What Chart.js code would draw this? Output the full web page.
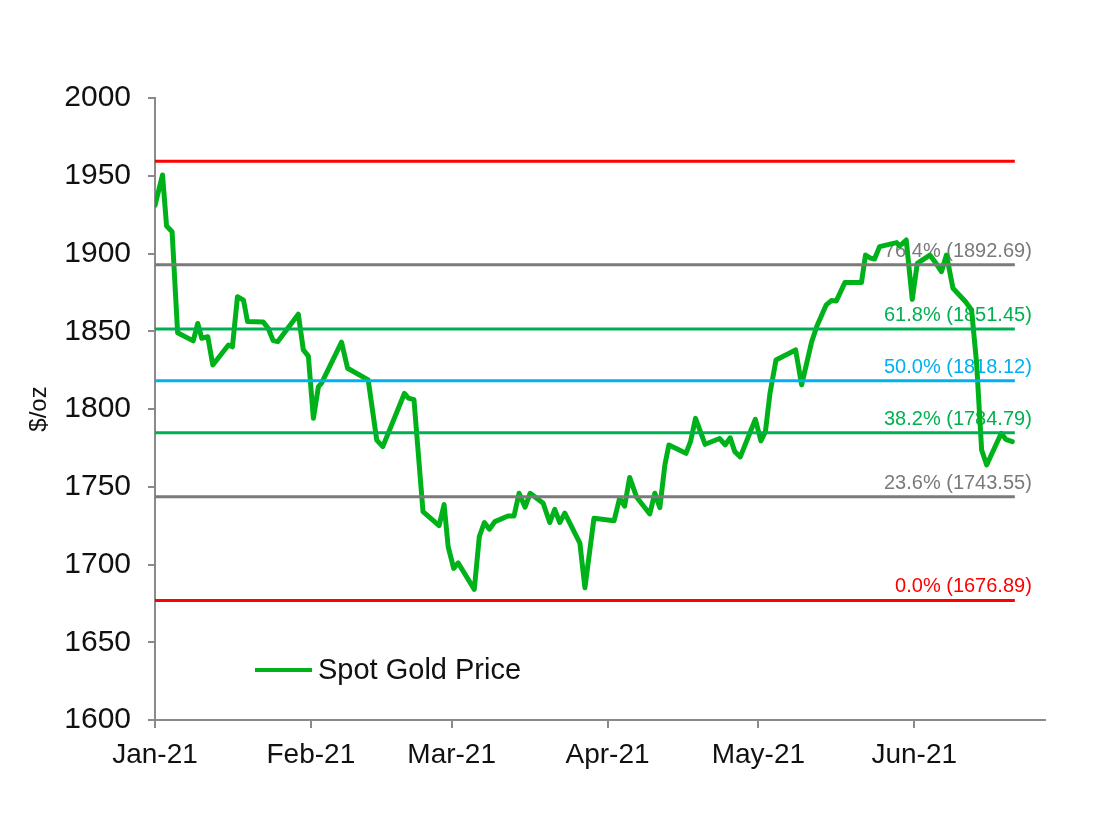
<!DOCTYPE html>
<html><head><meta charset="utf-8">
<script src="https://cdn.jsdelivr.net/npm/chart.js@4.4.1/dist/chart.umd.min.js"></script>
<style>html,body{margin:0;padding:0;background:#fff}#wrap{width:1100px;height:814px}</style>
</head><body><div id="wrap"><canvas id="c" width="1100" height="814"></canvas></div>
<script>
// ---- data ----
const seriesName = 'Spot Gold Price';
const goldDays = [0,1.5,2.3,3.4,4.5,7.6,8.5,9.3,10.5,11.5,
 14.6,15.4,16.4,17.6,18.4,21.5,22.5,23.5,24.4,28.5,
 29.5,30.5,31.5,32.5,33.1,37.1,38.3,42.4,44.1,45.3,
 49.6,50.4,51.5,53.3,56.5,57.5,58.3,59.4,60.3,63.5,
 64.5,65.5,66.5,67.6,70.2,71.4,72.4,73.6,74.6,77.2,
 78.5,79.5,80.5,81.5,84.5,85.5,87.3,91.3,92.4,93.4,
 94.4,95.8,98.4,99.4,100.4,101.4,102.2,105.6,106.5,107.5,
 109.4,112.3,113.4,114.4,115.3,116.4,119.4,120.5,121.4,122.3,
 123.5,127.4,128.6,130.6,131.6,133.5,134.5,135.5,137.2,140.5,
 141.3,142.3,143.1,144.1,147.5,148.1,149.4,150.6,151.6,154.1,
 155.1,156.4,157.4,158.7,161.2,162.4,163.4,164.4,165.4,168.3,
 169.2,170.5];
const goldPrices = [1931,1950.5,1917.7,1914,1849,1843.8,1855,1845.5,1846.5,1828.3,
 1841.2,1840,1872.2,1870,1856.2,1856,1851.9,1844,1843.3,1861,
 1838,1834,1794,1814.4,1816.5,1843,1826.2,1818.7,1780,1775.8,
 1810,1807,1806,1734,1725,1738.5,1711.5,1697.5,1701,1684,
 1718,1727,1722.7,1727.6,1731.2,1731.2,1745.8,1736.8,1745.8,1739.4,
 1727,1735.5,1727,1733,1713.7,1685,1729.7,1728.2,1742.6,1737.6,
 1756,1743.2,1732.5,1745.8,1736.6,1764,1776.9,1771.5,1779,1794,
 1777.3,1781,1776.9,1781.5,1772.6,1769.2,1793.4,1779.5,1785.5,1810,
 1831.5,1838,1815.5,1843.3,1853,1867,1869.7,1869.5,1881.3,1881.3,
 1899,1897,1896.5,1904.4,1907,1904.8,1908.7,1870.5,1893.7,1899,
 1894.7,1888.3,1899,1877.6,1869,1863.7,1829.4,1773.6,1764,1784.4,
 1780.5,1779];
const fibLevels = [1959.35, 1892.69, 1851.45, 1818.12, 1784.79, 1743.55, 1676.89];
const fibLabels = ['', '76.4% (1892.69)', '61.8% (1851.45)', '50.0% (1818.12)', '38.2% (1784.79)', '23.6% (1743.55)', '0.0% (1676.89)'];
const fibStartDay = 0, fibEndDay = 171;
const monthTicks = [0, 31, 59, 90, 120, 151];
const monthLabels = ['Jan-21', 'Feb-21', 'Mar-21', 'Apr-21', 'May-21', 'Jun-21'];
const yTitle = '$/oz';

// ---- styles ----
const FONT = '"Liberation Sans", Arial, sans-serif';
const goldColor = '#00b21a';
const fibColors = ['#ff0000', '#7a7a7a', '#00b050', '#00b0f0', '#00b050', '#7a7a7a', '#ff0000'];
const axisColor = '#8a8a8a';

const datasets = fibLevels.map((lv, i) => ({
  label: fibLabels[i],
  data: [{x: fibStartDay, y: lv}, {x: fibEndDay, y: lv}],
  borderColor: fibColors[i], borderWidth: 3, pointRadius: 0, fill: false
}));
datasets.push({
  label: seriesName,
  data: goldDays.map((d, i) => ({x: d, y: goldPrices[i]})),
  borderColor: goldColor, borderWidth: 5, borderJoinStyle: 'round', borderCapStyle: 'round',
  pointRadius: 0, tension: 0, fill: false
});

const fibLabelPlugin = {
  id: 'fibLabels',
  beforeDatasetsDraw(chart) {
    const {ctx, scales: {x, y}} = chart;
    ctx.save();
    ctx.font = '20px ' + FONT;
    ctx.textAlign = 'right';
    ctx.textBaseline = 'alphabetic';
    fibLevels.forEach((lv, i) => {
      if (!fibLabels[i]) return;
      ctx.fillStyle = fibColors[i];
      ctx.fillText(fibLabels[i], x.getPixelForValue(fibEndDay) + 17, y.getPixelForValue(lv) - 8);
    });
    ctx.restore();
  }
};

const legendPlugin = {
  id: 'innerLegend',
  afterDatasetsDraw(chart) {
    const {ctx, chartArea} = chart;
    const ds = chart.data.datasets[chart.data.datasets.length - 1];
    const lx = chartArea.left + 100, ly = chartArea.bottom - 50;
    ctx.save();
    ctx.strokeStyle = ds.borderColor; ctx.lineWidth = 4;
    ctx.beginPath(); ctx.moveTo(lx, ly); ctx.lineTo(lx + 57, ly); ctx.stroke();
    ctx.fillStyle = '#111';
    ctx.font = '29px ' + FONT;
    ctx.textAlign = 'left'; ctx.textBaseline = 'middle';
    ctx.fillText(ds.label, lx + 63, ly + 1);
    ctx.restore();
  }
};

new Chart(document.getElementById('c'), {
  type: 'line',
  data: {datasets},
  options: {
    responsive: false, animation: false, devicePixelRatio: 1,
    layout: {padding: {top: 98, right: 55, left: 0, bottom: 0}},
    plugins: {legend: {display: false}, tooltip: {enabled: false}},
    scales: {
      x: {
        type: 'linear', min: 0, max: 177,
        afterBuildTicks: s => { s.ticks = monthTicks.map(v => ({value: v})); },
        afterFit: s => { s.height = 94; },
        ticks: {autoSkip: false, maxRotation: 0, padding: 10, color: '#111',
          font: {size: 28, family: FONT},
          callback: (v, i) => monthLabels[i]},
        grid: {drawOnChartArea: false, tickLength: 8, color: axisColor, lineWidth: 2},
        border: {color: axisColor, width: 2}
      },
      y: {
        min: 1600, max: 2000,
        afterFit: s => { s.width = 155; },
        ticks: {stepSize: 50, padding: 17, color: '#111', font: {size: 30, family: FONT},
          callback: v => String(v)},
        grid: {drawOnChartArea: false, tickLength: 7, color: axisColor, lineWidth: 2},
        border: {color: axisColor, width: 2},
        title: {display: true, text: yTitle, color: '#111', font: {size: 24, family: FONT}, padding: {top: 25, bottom: 0}}
      }
    }
  },
  plugins: [fibLabelPlugin, legendPlugin]
});
</script>
</body></html>
